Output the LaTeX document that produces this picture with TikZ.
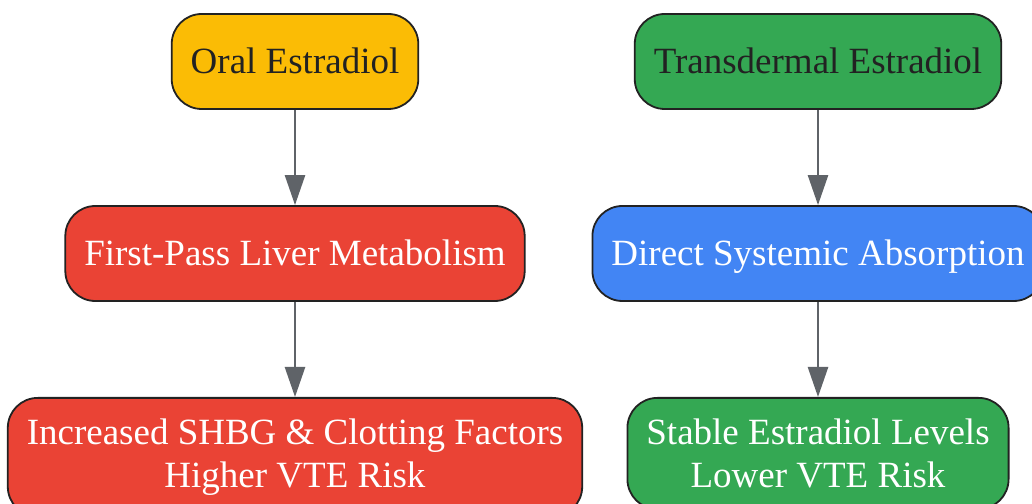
\documentclass[tikz,border=0pt]{standalone}
\usepackage{fontspec}
\setmainfont{Liberation Serif}
\usepackage{tikz}
\usetikzlibrary{arrows.meta}
\definecolor{oralyellow}{HTML}{FBBC05}
\definecolor{transgreen}{HTML}{34A853}
\definecolor{liverred}{HTML}{EA4335}
\definecolor{directblue}{HTML}{4285F4}
\definecolor{edgegray}{HTML}{5F6368}
\definecolor{rimdark}{HTML}{222222}
\tikzset{
	box/.style={draw=rimdark, line width=1.8pt, rounded corners=30pt, align=center, minimum height=95pt, inner xsep=19pt, inner ysep=21pt, font=\fontsize{37}{43}\selectfont},
	onebox/.style={box, text height=25pt, text depth=0pt},
	flow/.style={draw=edgegray, line width=2.5pt, -{Triangle[length=30pt,width=20pt]}}
}

\begin{document}
\begin{tikzpicture}[x=1pt, y=1pt]
		%%%%% START %%%%%
		
		\useasboundingbox (0, 0) rectangle (1032, 503);
		
		\node[onebox, fill=oralyellow, text=rimdark] (oral) at (295, 441.5) {Oral Estradiol};
		\node[onebox, fill=liverred, text=white] (liver) at (295, 249.5) {First-Pass Liver Metabolism};
		\node[box, anchor=north, fill=liverred, text=white] (shbg) at (295, 106) {Increased SHBG \& Clotting Factors\\Higher VTE Risk};
		
		\node[onebox, fill=transgreen, text=rimdark] (trans) at (818, 441.5) {Transdermal Estradiol};
		\node[onebox, fill=directblue, text=white] (direct) at (818, 249.5) {Direct Systemic Absorption};
		\node[box, anchor=north, fill=transgreen, text=white] (stable) at (818, 106) {Stable Estradiol Levels\\Lower VTE Risk};
		
		\draw[flow] (oral) -- (liver);
		\draw[flow] (liver) -- (shbg);
		\draw[flow] (trans) -- (direct);
		\draw[flow] (direct) -- (stable);
		
		%%%%% END %%%%%
	\end{tikzpicture}
\end{document}
